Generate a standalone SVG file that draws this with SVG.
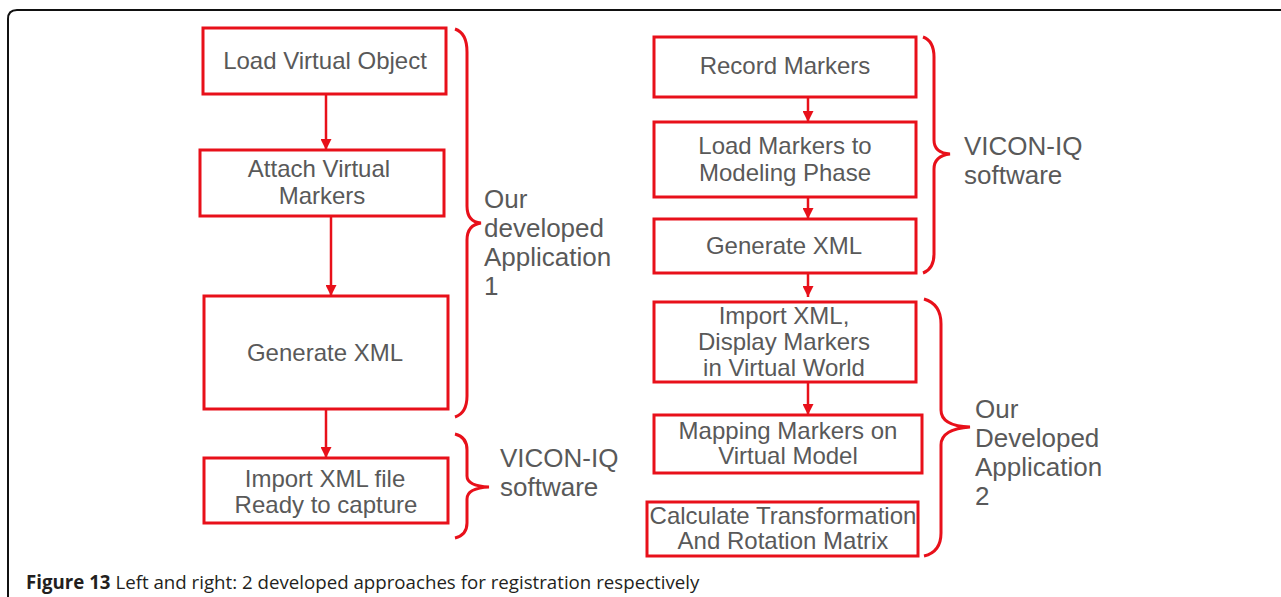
<svg xmlns="http://www.w3.org/2000/svg" width="1281" height="597" viewBox="0 0 1281 597">
<defs>
<style>
.box{fill:#fff;stroke:#e8101a;stroke-width:3}
.t{font-family:"Liberation Sans",Arial,sans-serif;font-size:24px;fill:#595959;text-anchor:middle}
.lbl{font-family:"Liberation Sans",Arial,sans-serif;font-size:26px;fill:#595959}
.con{stroke:#e8101a;stroke-width:2.5;fill:none;marker-end:url(#ah)}
.brace{stroke:#e8101a;stroke-width:3;fill:none}
.cap{font-family:"Open Sans","Noto Sans",sans-serif;font-size:18.7px;fill:#231f20}
</style>
<marker id="ah" viewBox="0 0 10 10" refX="10" refY="5" markerWidth="4.4" markerHeight="4.4" orient="auto" markerUnits="strokeWidth">
<path d="M0,0 L10,5 L0,10 z" fill="#e8101a"/>
</marker>
</defs>
<rect width="1281" height="597" fill="#fff"/>
<path d="M8,597 L8,19 Q8,10 17,10 L1281,10" fill="none" stroke="#111" stroke-width="2"/>

<g id="connectors">
<line class="con" x1="326" y1="94" x2="326" y2="150"/>
<line class="con" x1="331" y1="216" x2="331" y2="296"/>
<line class="con" x1="326" y1="409" x2="326" y2="458"/>
<line class="con" x1="808" y1="97" x2="808" y2="122"/>
<line class="con" x1="808" y1="197" x2="808" y2="219"/>
<line class="con" x1="808" y1="273" x2="808" y2="297"/>
<line class="con" x1="808" y1="382" x2="808" y2="415"/>
</g>

<g id="L1"><rect class="box" x="203" y="28" width="243" height="66"/><text class="t" x="325" y="69">Load Virtual Object</text></g>
<g id="L2"><rect class="box" x="200" y="150" width="244" height="66"/><text class="t" x="319" y="177">Attach Virtual</text><text class="t" x="322" y="204">Markers</text></g>
<g id="L3"><rect class="box" x="204" y="296" width="244" height="113"/><text class="t" x="325" y="361">Generate XML</text></g>
<g id="L4"><rect class="box" x="204" y="458" width="244" height="65"/><text class="t" x="325" y="487">Import XML file</text><text class="t" x="326" y="513">Ready to capture</text></g>

<g id="brace-L1"><path class="brace" d="M455,29 Q467,33 467,52 L467,206 Q467,222 481,223 Q467,225 467,240 L467,396 Q467,413 455,417"/><text class="lbl" x="484" y="208">Our</text><text class="lbl" x="484" y="237">developed</text><text class="lbl" x="484" y="266">Application</text><text class="lbl" x="484" y="295">1</text></g>
<g id="brace-L2"><path class="brace" d="M455,434 Q467,437 467,450 L467,476 Q467,486 489,487 Q467,488 467,499 L467,523 Q467,535 455,538"/><text class="lbl" x="500" y="467">VICON-IQ</text><text class="lbl" x="500" y="496">software</text></g>

<g id="R1"><rect class="box" x="654" y="37" width="262" height="60"/><text class="t" x="785" y="74">Record Markers</text></g>
<g id="R2"><rect class="box" x="654" y="122" width="262" height="75"/><text class="t" x="785" y="154">Load Markers to</text><text class="t" x="785" y="181">Modeling Phase</text></g>
<g id="R3"><rect class="box" x="654" y="219" width="262" height="54"/><text class="t" x="784" y="254">Generate XML</text></g>
<g id="R4"><rect class="box" x="654" y="302" width="262" height="80"/><text class="t" x="784" y="324">Import XML,</text><text class="t" x="784" y="350">Display Markers</text><text class="t" x="784" y="376">in Virtual World</text></g>
<g id="R5"><rect class="box" x="654" y="415" width="268" height="58"/><text class="t" x="788" y="439">Mapping Markers on</text><text class="t" x="788" y="464">Virtual Model</text></g>
<g id="R6"><rect class="box" x="647" y="502" width="271" height="54"/><text class="t" x="783" y="524">Calculate Transformation</text><text class="t" x="783" y="549">And Rotation Matrix</text></g>

<g id="brace-R1"><path class="brace" d="M923,37 Q934,41 934,57 L934,140 Q934,153 950,154 Q934,156 934,169 L934,254 Q934,269 923,273"/><text class="lbl" x="964" y="155">VICON-IQ</text><text class="lbl" x="964" y="184">software</text></g>
<g id="brace-R2"><path class="brace" d="M924,299 Q941,304 941,324 L941,410 Q941,426 970,427 Q941,429 941,445 L941,533 Q941,552 924,556"/><text class="lbl" x="975" y="418">Our</text><text class="lbl" x="975" y="447">Developed</text><text class="lbl" x="975" y="476">Application</text><text class="lbl" x="975" y="505">2</text></g>

<text class="cap" x="26" y="589"><tspan font-weight="bold">Figure 13</tspan> Left and right: 2 developed approaches for registration respectively</text>
</svg>
